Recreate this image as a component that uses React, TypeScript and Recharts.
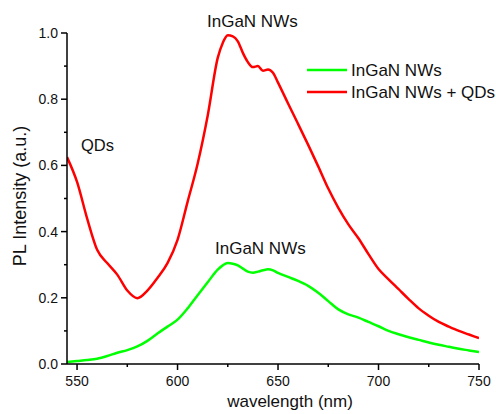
import { LineChart, Line, XAxis, YAxis, Customized } from "recharts";

const wavelengths = [
  545, 550, 555, 560, 565, 570, 575, 580, 585, 590, 595, 600, 605, 610, 615, 620, 622.5, 625, 627.5, 630,
  632.5, 635, 637.5, 640, 642.5, 645, 647.5, 650, 655, 660, 665, 670, 675, 680, 685, 690, 695, 700, 705, 710,
  715, 720, 725, 730, 735, 740, 745, 750,
];

// InGaN NWs (green)
const nwOnly = [
  0.006, 0.009, 0.012, 0.016, 0.024, 0.034, 0.042, 0.053, 0.07, 0.092, 0.113, 0.134, 0.168, 0.208, 0.247, 0.285,
  0.298, 0.305, 0.303, 0.298, 0.288, 0.279, 0.276, 0.279, 0.283, 0.286, 0.283, 0.275, 0.263, 0.251, 0.236, 0.215,
  0.19, 0.165, 0.15, 0.14, 0.127, 0.114, 0.1, 0.09, 0.081, 0.073, 0.065, 0.058, 0.052, 0.046, 0.041, 0.036,
];

// InGaN NWs + QDs (red)
const nwWithQds = [
  0.625, 0.55, 0.44, 0.345, 0.305, 0.27, 0.222, 0.199, 0.222, 0.26, 0.305, 0.375, 0.49, 0.605, 0.75, 0.925, 0.97,
  0.993, 0.99, 0.975, 0.94, 0.912, 0.897, 0.9, 0.886, 0.89, 0.88, 0.85, 0.787, 0.725, 0.662, 0.597, 0.53, 0.472,
  0.422, 0.38, 0.332, 0.287, 0.256, 0.226, 0.196, 0.168, 0.146, 0.127, 0.113, 0.1, 0.089, 0.078,
];

const xTicks = [550, 575, 600, 625, 650, 675, 700, 725, 750];
const yTicks = [0, 0.1, 0.2, 0.3, 0.4, 0.5, 0.6, 0.7, 0.8, 0.9, 1.0];

const series = [
  { key: "nw", name: "InGaN NWs", color: "#00ff00" },
  { key: "nwqd", name: "InGaN NWs + QDs", color: "#ff0000" },
];

const data = wavelengths.map((wl, i) => ({ wl, nw: nwOnly[i], nwqd: nwWithQds[i] }));

const FONT = "'Liberation Sans', Arial, sans-serif";
const INK = "#111";

const XTick = (props: any) => {
  const { x, y, payload } = props;
  const v = payload.value;
  const major = v % 50 === 0;
  return (
    <g>
      <line x1={x} x2={x} y1={y} y2={y + (major ? 6 : 3)} stroke="#000" strokeWidth={1.5} />
      {major ? (
        <text x={x} y={y + 22} textAnchor="middle" fontSize={14} fill={INK} fontFamily={FONT}>
          {v}
        </text>
      ) : null}
    </g>
  );
};

const YTick = (props: any) => {
  const { x, y, payload } = props;
  const v = payload.value;
  const major = Math.round(v * 10) % 2 === 0;
  return (
    <g>
      <line x1={x} x2={x - (major ? 6 : 3)} y1={y} y2={y} stroke="#000" strokeWidth={1.5} />
      {major ? (
        <text x={x - 9} y={y + 5} textAnchor="end" fontSize={14} fill={INK} fontFamily={FONT}>
          {v.toFixed(1)}
        </text>
      ) : null}
    </g>
  );
};

const Overlay = () => (
  <g fontFamily={FONT} fill={INK}>
    <text x={207} y={27} fontSize={17}>InGaN NWs</text>
    <text x={81} y={151} fontSize={16.5}>QDs</text>
    <text x={215} y={254} fontSize={17}>InGaN NWs</text>
    {series.map((s, i) => (
      <g key={s.key}>
        <line x1={307} x2={347} y1={70 + i * 22} y2={70 + i * 22} stroke={s.color} strokeWidth={2.5} />
        <text x={351} y={76 + i * 22} fontSize={17}>{s.name}</text>
      </g>
    ))}
    <text x={290} y={407} fontSize={17} textAnchor="middle">wavelength (nm)</text>
    <text x={26} y={196} fontSize={18} textAnchor="middle" transform="rotate(-90, 26, 196)">
      PL Intensity (a.u.)
    </text>
  </g>
);

export default function App() {
  return (
    <div style={{ position: "absolute", left: 0, top: 0, background: "#fff" }}>
      <LineChart width={496} height={414} data={data} margin={{ top: 33, right: 17, bottom: 0, left: 0 }}>
        <XAxis
          dataKey="wl"
          type="number"
          domain={[545, 750]}
          ticks={xTicks}
          allowDataOverflow
          height={50}
          tickSize={0}
          tickMargin={0}
          tickLine={false}
          tick={<XTick />}
          axisLine={{ stroke: "#000", strokeWidth: 1.5 }}
          interval={0}
        />
        <YAxis
          type="number"
          domain={[0, 1]}
          ticks={yTicks}
          allowDataOverflow
          width={67}
          tickSize={0}
          tickMargin={0}
          tickLine={false}
          tick={<YTick />}
          axisLine={{ stroke: "#000", strokeWidth: 1.5 }}
          interval={0}
        />
        {series.map((s) => (
          <Line
            key={s.key}
            dataKey={s.key}
            name={s.name}
            type="monotone"
            stroke={s.color}
            strokeWidth={2.5}
            dot={false}
            isAnimationActive={false}
          />
        ))}
        <Customized component={Overlay} />
      </LineChart>
    </div>
  );
}
